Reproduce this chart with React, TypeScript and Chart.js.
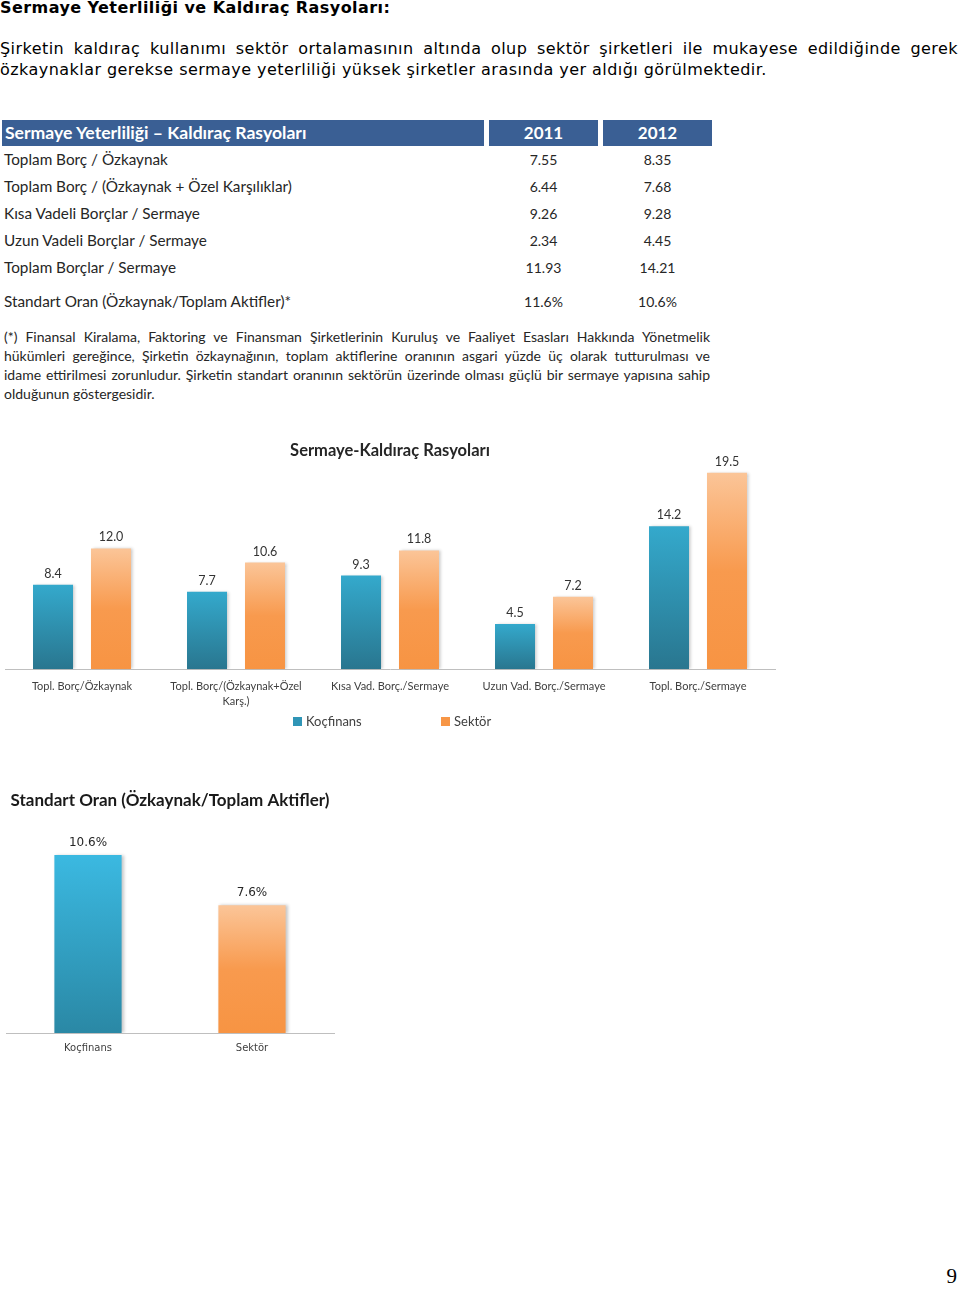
import React, { useEffect, useRef } from "react";
import { Chart, registerables } from "chart.js";

Chart.register(...registerables);

const pageTitle = "Sermaye Yeterliliği ve Kaldıraç Rasyoları:";
const introLines = [
  "Şirketin kaldıraç kullanımı sektör ortalamasının altında olup sektör şirketleri ile mukayese edildiğinde gerek",
  "özkaynaklar gerekse sermaye yeterliliği yüksek şirketler arasında yer aldığı görülmektedir.",
];

const tableTitle = "Sermaye Yeterliliği – Kaldıraç Rasyoları";
const tableYears = ["2011", "2012"];
const tableRowLabels = [
  "Toplam Borç / Özkaynak",
  "Toplam Borç / (Özkaynak + Özel Karşılıklar)",
  "Kısa Vadeli Borçlar / Sermaye",
  "Uzun Vadeli Borçlar / Sermaye",
  "Toplam Borçlar / Sermaye",
  "Standart Oran (Özkaynak/Toplam Aktifler)*",
];
const table2011 = ["7.55", "6.44", "9.26", "2.34", "11.93", "11.6%"];
const table2012 = ["8.35", "7.68", "9.28", "4.45", "14.21", "10.6%"];
const footnoteLines = [
  "(*) Finansal Kiralama, Faktoring ve Finansman Şirketlerinin Kuruluş ve Faaliyet Esasları Hakkında Yönetmelik",
  "hükümleri gereğince, Şirketin özkaynağının, toplam aktiflerine oranının asgari yüzde üç olarak tutturulması ve",
  "idame ettirilmesi zorunludur. Şirketin standart oranının sektörün üzerinde olması güçlü bir sermaye yapısına sahip",
  "olduğunun göstergesidir.",
];

const ratioTitle = "Sermaye-Kaldıraç Rasyoları";
const ratioCategories = [
  ["Topl. Borç/Özkaynak"],
  ["Topl. Borç/(Özkaynak+Özel", "Karş.)"],
  ["Kısa Vad. Borç./Sermaye"],
  ["Uzun Vad. Borç./Sermaye"],
  ["Topl. Borç./Sermaye"],
];
const seriesNames = ["Koçfinans", "Sektör"];
const kocfinansRatios = [8.4, 7.7, 9.3, 4.5, 14.2];
const sektorRatios = [12.0, 10.6, 11.8, 7.2, 19.5];

const standartTitle = "Standart Oran (Özkaynak/Toplam Aktifler)";
const standartCategories = ["Koçfinans", "Sektör"];
const standartValues = [10.6, 7.6];

const pageNumber = "9";

function barGradient(stops: [number, string][], fallback: string) {
  return (ctx: any) => {
    const chart = ctx.chart;
    if (!chart.chartArea || ctx.type !== "data") return fallback;
    const y = chart.scales.y.getPixelForValue(ctx.raw);
    const base = chart.scales.y.getPixelForValue(0);
    const g = chart.ctx.createLinearGradient(0, y, 0, base);
    stops.forEach(([o, c]) => g.addColorStop(o, c));
    return g;
  };
}

const barShadow = {
  id: "barShadow",
  beforeDatasetsDraw(chart: any) {
    const c = chart.ctx;
    c.save();
    c.shadowColor = "rgba(0,0,0,0.22)";
    c.shadowBlur = 3;
    c.shadowOffsetX = 2;
    c.shadowOffsetY = 0;
  },
  afterDatasetsDraw(chart: any) {
    chart.ctx.restore();
  },
};

function valueLabels(fmt: (v: number) => string, font: string, color: string, offset: number) {
  return {
    id: "valueLabels",
    afterDatasetsDraw(chart: any) {
      const c = chart.ctx;
      c.save();
      c.font = font;
      c.fillStyle = color;
      c.textAlign = "center";
      c.textBaseline = "alphabetic";
      chart.data.datasets.forEach((ds: any, i: number) => {
        chart.getDatasetMeta(i).data.forEach((el: any, j: number) => {
          c.fillText(fmt(ds.data[j]), el.x, el.y - offset);
        });
      });
      c.restore();
    },
  };
}

const tealStops1: [number, string][] = [[0, "#34a9cc"], [1, "#29768f"]];
const orangeStops: [number, string][] = [[0, "#fbc598"], [0.5, "#f89a4e"], [1, "#f79443"]];
const tealStops2: [number, string][] = [[0, "#3bb9e1"], [1, "#2a88a5"]];

export default function App() {
  const c1 = useRef<HTMLCanvasElement>(null);
  const c2 = useRef<HTMLCanvasElement>(null);

  useEffect(() => {
    const ch1 = new Chart(c1.current as HTMLCanvasElement, {
      type: "bar",
      data: {
        labels: ratioCategories as any,
        datasets: [
          {
            label: seriesNames[0],
            data: kocfinansRatios,
            backgroundColor: barGradient(tealStops1, "#2f95b6") as any,
            categoryPercentage: 0.753,
            barPercentage: 0.69,
          },
          {
            label: seriesNames[1],
            data: sektorRatios,
            backgroundColor: barGradient(orangeStops, "#f79646") as any,
            categoryPercentage: 0.753,
            barPercentage: 0.69,
          },
        ],
      },
      options: {
        responsive: false,
        animation: false,
        layout: { padding: { left: 5, right: 5, top: 0, bottom: 4 } },
        plugins: {
          legend: { display: false },
          tooltip: { enabled: false },
          title: {
            display: true,
            text: ratioTitle,
            color: "#262626",
            font: { family: "Lato", size: 16.5, weight: "bold" },
            padding: { top: 5, bottom: 7 },
          },
        },
        scales: {
          x: {
            grid: { display: false, drawTicks: false },
            border: { display: true, color: "#bfbfbf", width: 1 },
            ticks: {
              color: "#404040",
              font: { family: "Lato", size: 11, lineHeight: 1.35 },
              padding: 10,
              maxRotation: 0,
              autoSkip: false,
            },
          },
          y: { display: false, min: 0, max: 20 },
        },
      },
      plugins: [barShadow, valueLabels((v) => v.toFixed(1), "12.5px Lato", "#333333", 7)],
    });

    const ch2 = new Chart(c2.current as HTMLCanvasElement, {
      type: "bar",
      data: {
        labels: standartCategories,
        datasets: [
          {
            label: standartTitle,
            data: standartValues,
            backgroundColor: ((ctx: any) =>
              ctx.dataIndex === 0
                ? barGradient(tealStops2, "#3bb9e1")(ctx)
                : barGradient(orangeStops, "#f79646")(ctx)) as any,
            categoryPercentage: 1,
            barPercentage: 0.41,
          },
        ],
      },
      options: {
        responsive: false,
        animation: false,
        layout: { padding: { left: 6, right: 19, top: 0, bottom: 4 } },
        plugins: {
          legend: { display: false },
          tooltip: { enabled: false },
          title: {
            display: true,
            text: standartTitle,
            color: "#1a1a1a",
            font: { family: "Lato", size: 17, weight: "bold" },
            padding: { top: 5, bottom: 21 },
          },
        },
        scales: {
          x: {
            grid: { display: false, drawTicks: false },
            border: { display: true, color: "#bfbfbf", width: 1 },
            ticks: {
              color: "#404040",
              font: { family: "DejaVu Sans", size: 10, lineHeight: 1.2 },
              padding: 9,
              maxRotation: 0,
            },
          },
          y: { display: false, min: 0, max: 12 },
        },
      },
      plugins: [barShadow, valueLabels((v) => v.toFixed(1) + "%", "12px 'DejaVu Sans'", "#262626", 9)],
    });

    return () => {
      ch1.destroy();
      ch2.destroy();
    };
  }, []);

  const abs = (s: React.CSSProperties): React.CSSProperties => ({ position: "absolute", ...s });

  return (
    <div style={abs({ left: 0, top: 0, width: 960, height: 1289, background: "#ffffff", overflow: "hidden" })}>
      <div
        style={abs({
          left: 0,
          top: -2,
          fontFamily: "'DejaVu Sans', Verdana, sans-serif",
          fontWeight: "bold",
          fontSize: 16,
          letterSpacing: 0.43,
          lineHeight: "20px",
          color: "#000",
          whiteSpace: "nowrap",
        })}
      >
        {pageTitle}
      </div>
      {introLines.map((line, i) => (
        <div
          key={i}
          style={abs({
            left: 0,
            top: 38 + i * 21,
            width: i === 0 ? 958 : 940,
            fontFamily: "'DejaVu Sans', Verdana, sans-serif",
            fontSize: 16,
            letterSpacing: 0.45,
            lineHeight: "21px",
            color: "#000",
            textAlign: "justify",
            textAlignLast: i === 0 ? "justify" : "left",
          } as any)}
        >
          {line}
        </div>
      ))}

      {/* table */}
      <div style={abs({ left: 2, top: 120, width: 482, height: 26, background: "#3a5f94" })}>
        <div
          style={abs({
            left: 3,
            top: 0,
            lineHeight: "26px",
            fontFamily: "Lato",
            fontWeight: "bold",
            fontSize: 17.6,
            color: "#fff",
            whiteSpace: "nowrap",
          })}
        >
          {tableTitle}
        </div>
      </div>
      {tableYears.map((y, i) => (
        <div
          key={y}
          style={abs({
            left: i === 0 ? 489 : 603,
            top: 120,
            width: 109,
            height: 26,
            background: "#3a5f94",
            color: "#fff",
            textAlign: "center",
            lineHeight: "26px",
            fontFamily: "Lato",
            fontWeight: "bold",
            fontSize: 17,
          })}
        >
          {y}
        </div>
      ))}
      {tableRowLabels.map((label, i) => {
        const baseline = i < 5 ? 165 + i * 27 : 307;
        const st: React.CSSProperties = {
          lineHeight: "20px",
          fontFamily: "Lato",
          color: "#262626",
          whiteSpace: "nowrap",
        };
        return (
          <React.Fragment key={label}>
            <div style={abs({ ...st, left: 4, top: baseline - 16, fontSize: 15.3 })}>{label}</div>
            <div style={abs({ ...st, left: 489, width: 109, textAlign: "center", top: baseline - 15.4, fontSize: 14 })}>
              {table2011[i]}
            </div>
            <div style={abs({ ...st, left: 603, width: 109, textAlign: "center", top: baseline - 15.4, fontSize: 14 })}>
              {table2012[i]}
            </div>
          </React.Fragment>
        );
      })}
      {footnoteLines.map((line, i) => (
        <div
          key={i}
          style={abs({
            left: 4,
            top: 327 + i * 19,
            width: 706,
            fontFamily: "Lato",
            fontSize: 14,
            lineHeight: "19px",
            color: "#262626",
            textAlign: "justify",
            textAlignLast: i < 3 ? "justify" : "left",
          } as any)}
        >
          {line}
        </div>
      ))}

      {/* chart 1 */}
      <canvas ref={c1} width={780} height={287} style={abs({ left: 0, top: 436, width: 780, height: 287 })} />
      {seriesNames.map((name, i) => (
        <div
          key={name}
          style={abs({
            left: i === 0 ? 293 : 441,
            top: 712,
            height: 18,
            display: "flex",
            alignItems: "center",
            fontFamily: "Lato",
            fontSize: 13,
            color: "#404040",
            whiteSpace: "nowrap",
          })}
        >
          <span
            style={{
              display: "inline-block",
              width: 9,
              height: 9,
              marginRight: 4,
              background: i === 0 ? "#2f95b6" : "#f79646",
            }}
          />
          {name}
        </div>
      ))}

      {/* chart 2 */}
      <canvas ref={c2} width={353} height={282} style={abs({ left: 0, top: 785, width: 353, height: 282 })} />

      <div
        style={abs({
          right: 3,
          top: 1264,
          fontFamily: "'Liberation Serif', 'Times New Roman', serif",
          fontSize: 21,
          lineHeight: "24px",
          color: "#000",
        })}
      >
        {pageNumber}
      </div>
    </div>
  );
}
